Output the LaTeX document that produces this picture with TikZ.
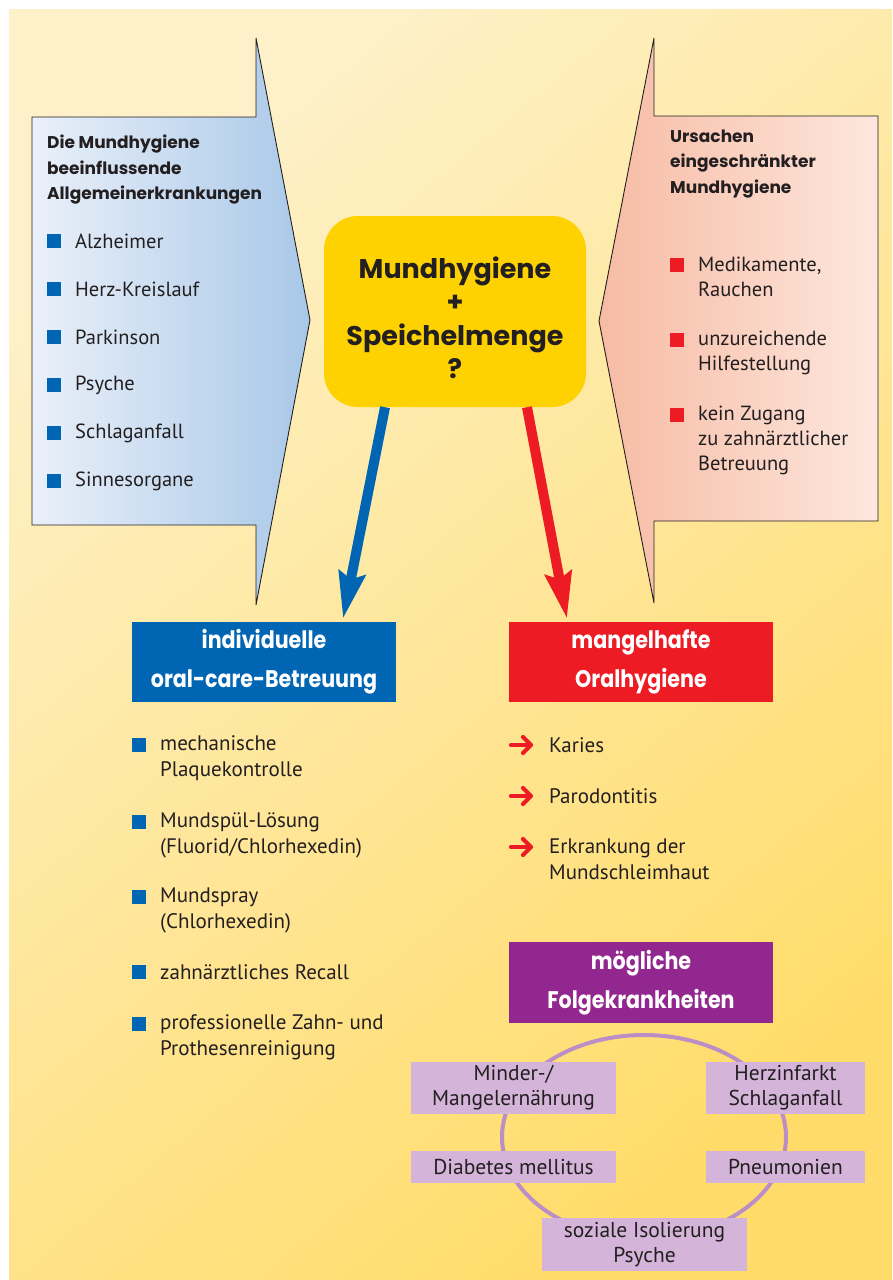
\documentclass[tikz,border=0pt]{standalone}
\usepackage{fontspec}
\setmainfont{PT Sans}
\newfontfamily\headfont{Poppins}
\newfontfamily\boxfont{Poppins}[FakeStretch=0.86]
\usetikzlibrary{arrows.meta,calc}
\definecolor{bgA}{HTML}{FEF1CA}
\definecolor{bgB}{HTML}{FFDC6A}
\definecolor{leftL}{HTML}{EAF0F9}
\definecolor{leftR}{HTML}{A8C8E8}
\definecolor{rightL}{HTML}{F7BBA3}
\definecolor{rightR}{HTML}{FDE7DE}
\definecolor{gold}{HTML}{FED200}
\definecolor{blueC}{HTML}{0066B3}
\definecolor{redC}{HTML}{ED1C24}
\definecolor{purp}{HTML}{92278F}
\definecolor{lilac}{HTML}{D4B5D9}
\definecolor{lilacline}{HTML}{BB8FC6}
\definecolor{ink}{HTML}{231F20}
\begin{document}
\begin{tikzpicture}[x=1pt,y=-1pt,
  txt/.style={font=\fontsize{20.5}{25}\selectfont, text=ink, inner sep=0pt, anchor=west, align=left},
  listtxt/.style={font=\fontsize{21}{26}\selectfont, text=ink, inner sep=0pt, anchor=west, align=left},
  headtxt/.style={font=\headfont\bfseries\fontsize{17}{25.5}\selectfont, text=ink, inner sep=0pt, anchor=west, align=left},
  bluesq/.style={fill=blueC, minimum size=14pt, inner sep=0pt, draw=none},
  redsq/.style={fill=redC, minimum size=14pt, inner sep=0pt, draw=none},
  colbox/.style={minimum width=264pt, minimum height=80pt, inner sep=0pt, text=white, align=center,
     font=\boxfont\bfseries\fontsize{24}{39}\selectfont},
  smallbox/.style={fill=lilac, inner sep=0pt, text=ink, align=center, font=\fontsize{21.5}{25}\selectfont},
  bigarrow/.style={line width=10pt, -{Stealth[length=46pt, width=26pt, inset=6pt]}},
  redtick/.style={redC, line width=4.2pt, line cap=round, line join=round}
]
\useasboundingbox (0,0) rectangle (892,1280);
\fill[white] (0,0) rectangle (892,1280);
\shade[shading=axis, top color=bgA, bottom color=bgB, shading angle=40] (9,9) rectangle (892,1280);

% left arrow shape
\draw[ink, line width=0.9pt, left color=leftL, right color=leftR]
  (32,117) -- (256,117) -- (256,38) -- (310,320) -- (256,605) -- (256,525) -- (32,525) -- cycle;
% right arrow shape
\draw[ink, line width=0.9pt, left color=rightL, right color=rightR]
  (878,116) -- (654,116) -- (654,38) -- (599,321) -- (654,603) -- (654,521) -- (878,521) -- cycle;

% left texts
\node[headtxt] (lhead) at (47,170) {Die Mundhygiene\\beeinflussende\\Allgemeinerkrankungen};
\foreach \y/\t [count=\i] in {241/Alzheimer, 289/Herz-Kreislauf, 337/Parkinson, 385/Psyche, 433/Schlaganfall, 481/Sinnesorgane}{
  \node[bluesq] (lsq\i) at (54,\y) {};
  \node[txt] (lit\i) at (75,\y) {\t};
}

% right texts
\node[headtxt] (rhead) at (670,164) {Ursachen\\eingeschränkter\\Mundhygiene};
\node[redsq] (rsq1) at (677,265) {};
\node[txt] (rit1) at (698,277) {Medikamente,\\Rauchen};
\node[redsq] (rsq2) at (677,340) {};
\node[txt] (rit2) at (698,352.5) {unzureichende\\Hilfestellung};
\node[redsq] (rsq3) at (677,415) {};
\node[txt] (rit3) at (698,440) {kein Zugang\\zu zahnärztlicher\\Betreuung};

% centre box
\node[fill=gold, rounded corners=34pt, minimum width=262pt, minimum height=191pt, inner sep=0pt] (mh) at (455,311.5) {};
\node[inner sep=0pt, align=center, text=ink, font=\headfont\bfseries\fontsize{27}{33.5}\selectfont] (mhtxt) at (455,318) {Mundhygiene\\+\\Speichelmenge\\?};

% coloured boxes
\node[colbox, fill=blueC] (ind) at (264,662) {individuelle\\oral-care-Betreuung};
\node[colbox, fill=redC] (mang) at (641,662) {mangelhafte\\Oralhygiene};
\node[colbox, fill=purp, minimum height=81pt] (folge) at (641,982.5) {mögliche\\Folgekrankheiten};

% big arrows
\coordinate (bs) at ($(mh.south)+(-70,0)$);
\coordinate (be) at ($(ind.north)+(79,-3)$);
\coordinate (rs) at ($(mh.south)+(72,0)$);
\coordinate (re) at ($(mang.north)+(-74,-3)$);
\draw[bigarrow, blueC] (bs) -- (be);
\draw[bigarrow, redC] (rs) -- (re);

% blue list
\node[bluesq] (bsq1) at (139,745) {};
\node[listtxt] (bit1) at (160,758) {mechanische\\Plaquekontrolle};
\node[bluesq] (bsq2) at (139,822) {};
\node[listtxt] (bit2) at (160,835) {Mundspül-Lösung\\(Fluorid/Chlorhexedin)};
\node[bluesq] (bsq3) at (139,897) {};
\node[listtxt] (bit3) at (160,910) {Mundspray\\(Chlorhexedin)};
\node[bluesq] (bsq4) at (139,972) {};
\node[listtxt] (bit4) at (160,972) {zahnärztliches Recall};
\node[bluesq] (bsq5) at (139,1024) {};
\node[listtxt] (bit5) at (160,1037) {professionelle Zahn- und\\Prothesenreinigung};

% red list
\foreach \y/\n in {745/1, 796/2, 847/3}{
  \draw[redtick] (511,\y) -- (530,\y);
  \draw[redtick] (523,\y-8) -- (531,\y) -- (523,\y+8);
}
\node[listtxt] (mit1) at (549,745) {Karies};
\node[listtxt] (mit2) at (549,796) {Parodontitis};
\node[listtxt] (mit3) at (549,859.5) {Erkrankung der\\Mundschleimhaut};

% ellipse and consequences
\draw[lilacline, line width=4pt] (644,1137) ellipse [x radius=142pt, y radius=102pt];
\node[smallbox, minimum width=205pt, minimum height=52pt] (minder) at (513.5,1088) {Minder-/\\Mangelernährung};
\node[smallbox, minimum width=159pt, minimum height=52pt] (herz) at (785.5,1088) {Herzinfarkt\\Schlaganfall};
\node[smallbox, minimum width=205pt, minimum height=32pt] (diab) at (513.5,1167) {Diabetes mellitus};
\node[smallbox, minimum width=159pt, minimum height=32pt] (pneu) at (785.5,1167) {Pneumonien};
\node[smallbox, minimum width=205pt, minimum height=53pt] (soz) at (644.5,1244.5) {soziale Isolierung\\Psyche};
\end{tikzpicture}
\end{document}
